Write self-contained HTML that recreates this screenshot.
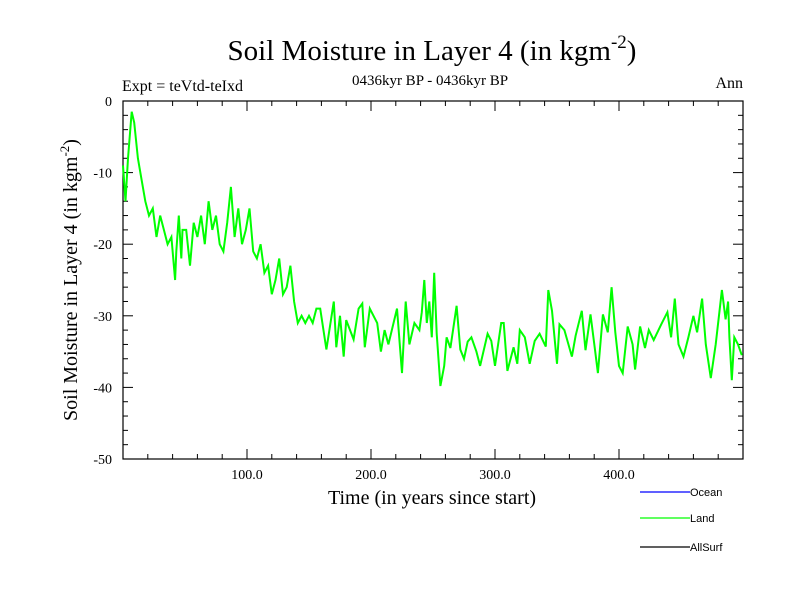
<!DOCTYPE html>
<html><head><meta charset="utf-8"><style>
body{margin:0;background:#fff}
svg{display:block;font-family:"Liberation Serif",serif}
</style></head><body>
<svg id="chart" width="800" height="600">
<text x="432" y="60" font-size="29" text-anchor="middle">Soil Moisture in Layer 4 (in kgm<tspan dy="-12" font-size="19">-2</tspan><tspan dy="12">)</tspan></text>
<text x="122" y="91" font-size="16">Expt = teVtd-teIxd</text>
<text x="430" y="85" font-size="15" text-anchor="middle">0436kyr BP - 0436kyr BP</text>
<text x="743" y="88" font-size="16" text-anchor="end">Ann</text>
<text transform="translate(77,280) rotate(-90)" font-size="20" text-anchor="middle">Soil Moisture in Layer 4 (in kgm<tspan dy="-8" font-size="13">-2</tspan><tspan dy="8">)</tspan></text>
<text x="432" y="504" font-size="20" text-anchor="middle">Time (in years since start)</text>
<g id="axes"></g>
<g id="series"></g>
<g>
<line x1="640" y1="492" x2="690" y2="492" stroke="#0000ff" stroke-width="1.2"/>
<text x="690" y="496" font-size="11" font-family="Liberation Sans,sans-serif">Ocean</text>
<line x1="640" y1="518" x2="690" y2="518" stroke="#00ff00" stroke-width="1.2"/>
<text x="690" y="522" font-size="11" font-family="Liberation Sans,sans-serif">Land</text>
<line x1="640" y1="547" x2="690" y2="547" stroke="#000" stroke-width="1.2"/>
<text x="690" y="551" font-size="11" font-family="Liberation Sans,sans-serif">AllSurf</text>
</g>
</svg>
<script>
const years=[0,2,4,7,9,12,15,18,21,24,27,30,33,36,39,42,43,45,47,48,51,54,57,60,63,66,69,72,75,78,81,84,87,90,93,96,99,102,105,108,111,114,117,120,123,126,129,132,135,138,141,144,147,150,153,156,159,164,170,172,175,178,180,186,190,193,195,199,205,208,211,214,221,223,225,228,231,235,239,241,243,245,247,249,251,253,256,259,261,264,269,272,275,278,281,285,288,294,297,300,305,307,310,315,318,320,324,328,332,336,341,343,346,350,352,356,362,365,370,373,377,381,383,387,391,394,397,400,403,407,411,413,417,421,424,428,434,439,442,445,448,452,456,460,463,467,470,474,478,483,486,488,489,491,493,496,499];
const land=[-9,-14,-8,-1.5,-3,-8,-11,-14,-16,-15,-19,-16,-18,-20,-19,-25,-21,-16,-22,-18,-18,-23,-17,-19,-16,-20,-14,-18,-16,-20,-21,-17,-12,-19,-15,-20,-18,-15,-21,-22,-20,-24,-23,-27,-25,-22,-27,-26,-23,-28,-31,-30,-31,-30,-31,-29,-29,-34.7,-28,-34.4,-30,-35.7,-30.6,-33.3,-29,-28.3,-34.4,-29,-31,-35,-32,-34,-29,-33.5,-38,-28,-34,-31,-32,-29.5,-25,-31,-28,-33,-24,-32.5,-39.8,-37,-33,-34.5,-28.6,-34.7,-36,-33.6,-33,-35,-37,-32.5,-33.5,-37,-31,-31,-37.7,-34.4,-36.7,-32,-33,-36.7,-33.5,-32.5,-34.3,-26.4,-29.3,-36.7,-31.2,-32,-35.7,-32.8,-29.3,-34.8,-29.8,-35.2,-38,-29.8,-32.3,-26,-32.3,-37,-38,-31.5,-34,-37.5,-31.5,-34.5,-32,-33.4,-31.2,-29.5,-33,-27.6,-34,-35.7,-33,-30,-32.3,-27.6,-34,-38.7,-34,-26.4,-30.5,-28,-33,-39,-33,-34,-35.5];
const yTicks=[0,-10,-20,-30,-40,-50];
const xTicks=[100,200,300,400];
const X0=123,X1=743,Y0=101,Y1=459,xMax=500;
const sx=v=>X0+(X1-X0)*v/xMax;
const sy=v=>Y0+(Y1-Y0)*(0-v)/50;
const NS="http://www.w3.org/2000/svg";
const ax=document.getElementById('axes');
function mk(tag,attrs,parent){const e=document.createElementNS(NS,tag);for(const k in attrs)e.setAttribute(k,attrs[k]);parent.appendChild(e);return e;}
const fr=mk('rect',{x:X0,y:Y0,width:X1-X0,height:Y1-Y0,fill:'none',stroke:'#000','stroke-width':1.2},ax);


for(let v=0;v>=-50;v-=2){const maj=v%10===0,L=maj?10:5,y=sy(v);
 mk('line',{x1:X0,y1:y,x2:X0+L,y2:y,stroke:'#000'},ax);mk('line',{x1:X1,y1:y,x2:X1-L,y2:y,stroke:'#000'},ax);}
for(let v=20;v<xMax;v+=20){const maj=v%100===0,L=maj?10:5,x=sx(v);
 mk('line',{x1:x,y1:Y1,x2:x,y2:Y1-L,stroke:'#000'},ax);mk('line',{x1:x,y1:Y0,x2:x,y2:Y0+L,stroke:'#000'},ax);}
yTicks.forEach(v=>{const t=mk('text',{x:X0-11,y:sy(v)+5,'font-size':14,'text-anchor':'end'},ax);t.textContent=String(v);
 
 });
xTicks.forEach(v=>{const t=mk('text',{x:sx(v),y:Y1+20,'font-size':14,'text-anchor':'middle'},ax);t.textContent=v.toFixed(1);
 
 });
const p=mk('path',{d:years.map((yr,i)=>(i?'L':'M')+sx(yr).toFixed(1)+','+sy(land[i]).toFixed(1)).join(''),fill:'none',stroke:'#00ff00','stroke-width':2},document.getElementById('series'));


</script>
</body></html>
